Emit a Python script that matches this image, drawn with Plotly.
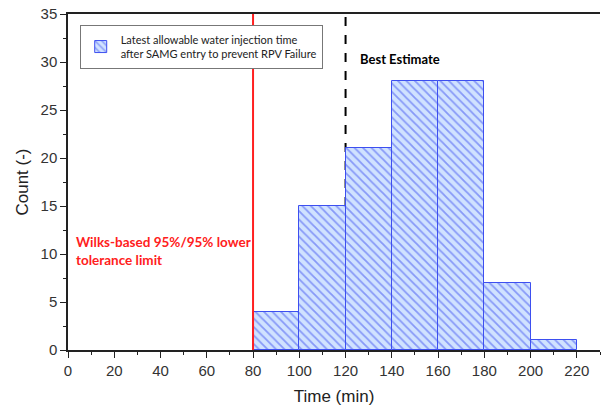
import plotly.graph_objects as go

bin_left = [80, 100, 120, 140, 160, 180, 200]
counts = [4, 15, 21, 28, 28, 7, 1]
bin_width = 20
x_ticks = [0, 20, 40, 60, 80, 100, 120, 140, 160, 180, 200, 220]
y_ticks = [0, 5, 10, 15, 20, 25, 30, 35]
wilks_limit = 80
best_estimate = 120

centers = [b + bin_width / 2 for b in bin_left]

fig = go.Figure()
fig.add_trace(go.Bar(
    x=centers, y=counts, width=[bin_width] * len(counts),
    name="Latest allowable water injection time<br>after SAMG entry to prevent RPV Failure",
    marker=dict(color="#d0e2ff", line=dict(color="#3d4ff0", width=1),
                pattern=dict(shape="\\", fgcolor="#3d4ff0", bgcolor="#d0e2ff", size=6, solidity=0.3)),
    showlegend=True,
))

fig.add_shape(type="line", x0=wilks_limit, x1=wilks_limit, y0=0, y1=35, xref="x", yref="y",
              line=dict(color="#ff2020", width=2))
fig.add_shape(type="line", x0=best_estimate, x1=best_estimate, y0=0, y1=35, xref="x", yref="y",
              line=dict(color="black", width=2, dash="dash"), layer="below")

fig.add_annotation(x=125.5, y=30.3, xref="x", yref="y", text="<b>Best Estimate</b>", showarrow=False,
                   xanchor="left", font=dict(family="Lato, Open Sans, sans-serif", size=13, color="black"))
fig.add_annotation(x=2.5, y=10.3, xref="x", yref="y",
                   text="<b>Wilks-based 95%/95% lower<br>tolerance limit</b>", showarrow=False,
                   xanchor="left", align="left",
                   font=dict(family="Lato, Open Sans, sans-serif", size=13.5, color="#ff2020"))

fig.update_layout(
    width=601, height=412,
    margin=dict(l=68, r=1, t=14, b=62),
    plot_bgcolor="white", paper_bgcolor="white",
    font=dict(family="Liberation Sans, Arial, sans-serif", size=15, color="#333"),
    bargap=0,
    legend=dict(x=0.022, y=0.968, xanchor="left", yanchor="top",
                bordercolor="#777", borderwidth=1, bgcolor="white",
                font=dict(family="Lato, Open Sans, sans-serif", size=11, color="#222"),
                itemwidth=30, tracegroupgap=0),
    xaxis=dict(range=[0, 230], tickvals=x_ticks, showline=True, linecolor="#222", linewidth=1.5,
               mirror=True, ticks="outside", ticklen=6, tickcolor="#222", showgrid=False, zeroline=False,
               automargin=False,
               minor=dict(dtick=10, ticks="outside", ticklen=3, tickcolor="#222"),
               title=dict(text="Time (min)", font=dict(size=17, color="#222"), standoff=12)),
    yaxis=dict(range=[0, 35], tickvals=y_ticks, showline=True, linecolor="#222", linewidth=1.5,
               ticks="outside", ticklen=6, tickcolor="#222", showgrid=False, zeroline=False,
               automargin=False, ticklabeloverflow="allow",
               minor=dict(dtick=2.5, ticks="outside", ticklen=3, tickcolor="#222"),
               title=dict(text="Count (-)", font=dict(size=17, color="#222"), standoff=8)),
)

# remove the default 8px page margin so the figure fills the 601x412 window exactly
fig.write_html("out.html", config={"displayModeBar": False},
               post_script="document.body.style.margin='0';")
